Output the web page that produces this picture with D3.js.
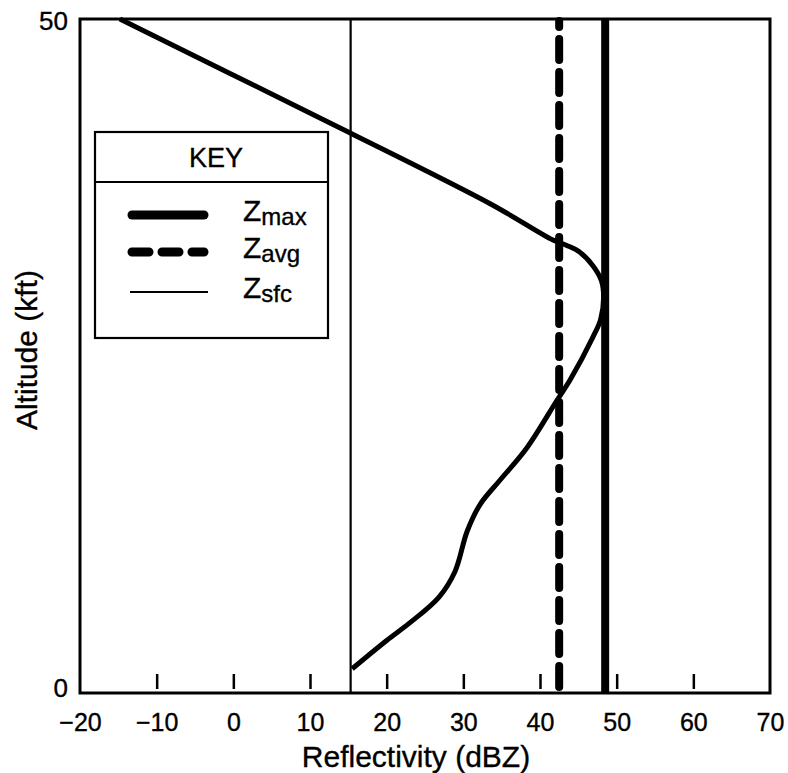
<!DOCTYPE html>
<html>
<head>
<meta charset="utf-8">
<script src="https://cdn.jsdelivr.net/npm/d3@7"></script>
<style>
  html, body { margin: 0; padding: 0; background: #fff; }
  svg { display: block; }
  text { font-family: "Liberation Sans", Arial, Helvetica, sans-serif; fill: #000; stroke: #000; stroke-width: 0.35px; }
</style>
</head>
<body>
<svg id="chart" width="788" height="773"></svg>
<script>
// ---- data ----
const xTickValues = [-20, -10, 0, 10, 20, 30, 40, 50, 60, 70];
const yTickValues = [0, 50];
const profileDbz = [-14.8, 9.0, 33.5, 41.7, 43.5, 45.2, 46.9, 48.0, 48.3, 47.9, 46.9, 43.9, 42.2, 38.3, 34.8, 32.2, 30.5, 28.9, 26.8, 23.0, 20.0, 15.5];
const profileAlt = [50, 43.3, 36.3, 33.6, 33.2, 32.7, 31.7, 30.6, 29.4, 27.7, 26.4, 23.2, 21.7, 18.2, 15.8, 14.0, 12.0, 9.0, 7.1, 5.2, 3.9, 1.8];
const zMax = 48.5;
const zAvg = 42.5;
const zSfc = 15.3;
const legendItems = [
  { key: "max", sub: "max" },
  { key: "avg", sub: "avg" },
  { key: "sfc", sub: "sfc" }
];

// ---- layout ----
const svg = d3.select("#chart");
const x = d3.scaleLinear().domain([-20, 70]).range([80, 770]);
const y = d3.scaleLinear().domain([0, 50]).range([693, 19]);

// vertical reference lines
svg.append("line").attr("x1", x(zSfc)).attr("x2", x(zSfc)).attr("y1", y(0)).attr("y2", y(50))
  .attr("stroke", "#000").attr("stroke-width", 2.2);
svg.append("line").attr("x1", x(zAvg)).attr("x2", x(zAvg)).attr("y1", y(0) - 6).attr("y2", y(50) + 2)
  .attr("stroke", "#000").attr("stroke-width", 8).attr("stroke-linecap", "round")
  .attr("stroke-dasharray", "21,12");
svg.append("line").attr("x1", x(zMax)).attr("x2", x(zMax)).attr("y1", y(0)).attr("y2", y(50))
  .attr("stroke", "#000").attr("stroke-width", 8);

// profile curve
const pts = profileDbz.map((d, i) => [d, profileAlt[i]]);
const line = d3.line().x(d => x(d[0])).y(d => y(d[1])).curve(d3.curveCatmullRom.alpha(0.5));
svg.append("path").attr("d", line(pts)).attr("fill", "none").attr("stroke", "#000")
  .attr("stroke-width", 5).attr("stroke-linejoin", "round");

// x axis ticks (inside) and labels
const xAxis = d3.axisBottom(x).tickValues(xTickValues).tickSize(-18).tickPadding(21)
  .tickFormat(d3.format("d"));
const gx = svg.append("g").attr("transform", `translate(0,${y(0) - 1})`).call(xAxis);
gx.select(".domain").remove();
gx.selectAll(".tick line").attr("stroke", "#000").attr("stroke-width", 2.5)
  .attr("y2", -18).attr("y1", -3)
  .attr("display", d => (d === -20 || d === 70) ? "none" : null);
gx.selectAll(".tick text").attr("font-size", 25).attr("fill", "#000")
  .style("font-family", '"Liberation Sans", Arial, sans-serif');

// y axis labels
const yAxis = d3.axisLeft(y).tickValues(yTickValues).tickSize(0).tickPadding(12).tickFormat(d3.format("d"));
const gy = svg.append("g").attr("transform", `translate(${x(-20)},0)`).call(yAxis);
gy.select(".domain").remove();
gy.selectAll(".tick text").attr("font-size", 26).attr("fill", "#000")
  .attr("dy", d => d === 0 ? "0.15em" : "0.4em")
  .style("font-family", '"Liberation Sans", Arial, sans-serif');

// frame
svg.append("rect").attr("x", x(-20)).attr("y", y(50)).attr("width", x(70) - x(-20)).attr("height", y(0) - y(50))
  .attr("fill", "none").attr("stroke", "#000").attr("stroke-width", 3);

// axis titles
svg.append("text").attr("x", 416).attr("y", 767).attr("text-anchor", "middle")
  .attr("font-size", 30).text("Reflectivity (dBZ)");
svg.append("text").attr("transform", "translate(37,350) rotate(-90)").attr("text-anchor", "middle")
  .attr("font-size", 30).text("Altitude (kft)");

// legend
const lg = svg.append("g");
lg.append("rect").attr("x", 95).attr("y", 132).attr("width", 233).attr("height", 206)
  .attr("fill", "#fff").attr("stroke", "#000").attr("stroke-width", 2.2);
lg.append("line").attr("x1", 95).attr("x2", 328).attr("y1", 182).attr("y2", 182)
  .attr("stroke", "#000").attr("stroke-width", 2);
lg.append("text").attr("x", 216).attr("y", 167).attr("text-anchor", "middle")
  .attr("font-size", 27).text("KEY");
const rowY = [215, 252, 292];
const styles = [
  { w: 9, dash: null },
  { w: 9, dash: "17,13" },
  { w: 2.2, dash: null }
];
legendItems.forEach((it, i) => {
  const s = styles[i];
  lg.append("line").attr("x1", s.w > 3 ? 132 : 130).attr("x2", s.w > 3 ? 204 : 208)
    .attr("y1", rowY[i]).attr("y2", rowY[i])
    .attr("stroke", "#000").attr("stroke-width", s.w)
    .attr("stroke-linecap", s.w > 3 ? "round" : "butt")
    .attr("stroke-dasharray", s.dash);
  const t = lg.append("text").attr("x", 243).attr("y", rowY[i] + 6).attr("font-size", 30);
  t.append("tspan").text("Z");
  t.append("tspan").attr("dy", 4).attr("font-size", 24).text(it.sub);
});
</script>
</body>
</html>
